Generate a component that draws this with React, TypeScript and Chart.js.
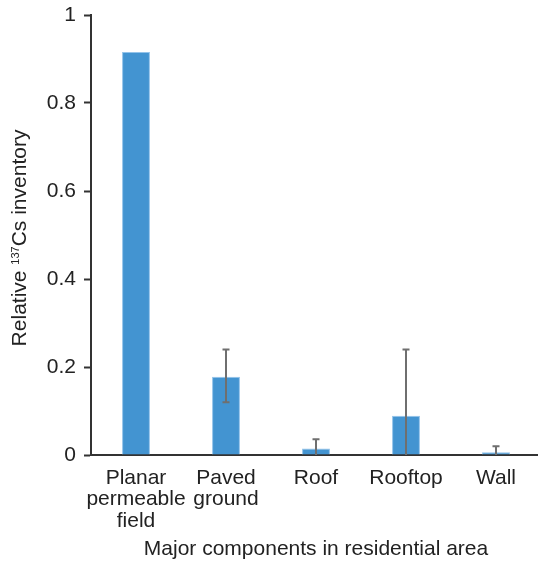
import React, { useEffect, useRef } from "react";
import { Chart, registerables } from "chart.js";

Chart.register(...registerables);

const categories: string[][] = [
  ["Planar", "permeable", "field"],
  ["Paved", "ground"],
  ["Roof"],
  ["Rooftop"],
  ["Wall"],
];
const values = [0.916, 0.178, 0.015, 0.089, 0.006];
const errLow: (number | null)[] = [null, 0.12, 0, 0, 0];
const errHigh: (number | null)[] = [null, 0.24, 0.036, 0.24, 0.02];
const yTicks = [0, 0.2, 0.4, 0.6, 0.8, 1];
const xTitle = "Major components in residential area";
const yTitleParts = ["Relative ", "137", "Cs inventory"];

const FONT = "'Liberation Sans', Arial, Helvetica, sans-serif";
const TEXT = "#222";

const errorPlugin = {
  id: "errorBars",
  afterDatasetsDraw(chart: any) {
    const { ctx, scales } = chart;
    const xs = scales.x;
    const ys = scales.y;
    ctx.save();
    ctx.strokeStyle = "#6f6f6f";
    ctx.lineWidth = 2;
    for (let i = 0; i < values.length; i++) {
      const lo = errLow[i];
      const hi = errHigh[i];
      if (lo === null || hi === null) continue;
      const x = xs.getPixelForValue(i);
      const y1 = ys.getPixelForValue(hi);
      const y2 = ys.getPixelForValue(lo);
      ctx.beginPath();
      ctx.moveTo(x, y1);
      ctx.lineTo(x, y2);
      ctx.moveTo(x - 3.5, y1);
      ctx.lineTo(x + 3.5, y1);
      if (lo > 0) {
        ctx.moveTo(x - 3.5, y2);
        ctx.lineTo(x + 3.5, y2);
      }
      ctx.stroke();
    }
    ctx.restore();
  },
};

const yTitlePlugin = {
  id: "yTitle",
  afterDraw(chart: any) {
    const { ctx, chartArea } = chart;
    const cy = (chartArea.top + chartArea.bottom) / 2 + 3;
    const big = `21px ${FONT}`;
    const small = `11px ${FONT}`;
    ctx.save();
    ctx.fillStyle = TEXT;
    ctx.textBaseline = "alphabetic";
    ctx.textAlign = "left";
    ctx.font = big;
    const w0 = ctx.measureText(yTitleParts[0]).width;
    const w2 = ctx.measureText(yTitleParts[2]).width;
    ctx.font = small;
    const w1 = ctx.measureText(yTitleParts[1]).width;
    const total = w0 + w1 + w2;
    ctx.translate(26, cy);
    ctx.rotate(-Math.PI / 2);
    let x = -total / 2;
    ctx.font = big;
    ctx.fillText(yTitleParts[0], x, 0);
    x += w0;
    ctx.font = small;
    ctx.fillText(yTitleParts[1], x, -7);
    x += w1;
    ctx.font = big;
    ctx.fillText(yTitleParts[2], x, 0);
    ctx.restore();
  },
};

export default function App() {
  const ref = useRef<HTMLCanvasElement>(null);
  useEffect(() => {
    const chart = new Chart(ref.current!, {
      type: "bar",
      data: {
        labels: categories,
        datasets: [
          {
            data: values,
            backgroundColor: "#4394d1",
            borderColor: "#93c3ea",
            borderWidth: 1,
            barPercentage: 0.31,
            categoryPercentage: 1,
          },
        ],
      },
      options: {
        responsive: false,
        animation: false,
        layout: { padding: { top: 15, right: 9, left: 0, bottom: 0 } },
        plugins: { legend: { display: false }, tooltip: { enabled: false } },
        scales: {
          x: {
            grid: { display: true, drawOnChartArea: false, drawTicks: false },
            border: { display: true, color: "#333", width: 2 },
            ticks: {
              font: { family: FONT, size: 21, lineHeight: 1.03 },
              color: TEXT,
              padding: 12,
              maxRotation: 0,
              autoSkip: false,
            },
            title: {
              display: true,
              text: xTitle,
              font: { family: FONT, size: 21, lineHeight: 1.03 },
              color: TEXT,
              padding: { top: 0, bottom: 3 },
            },
            afterFit: (s: any) => {
              s.height = 108;
            },
          },
          y: {
            min: 0,
            max: 1,
            afterBuildTicks: (axis: any) => {
              axis.ticks = yTicks.map((v) => ({ value: v }));
            },
            ticks: {
              font: { family: FONT, size: 21 },
              color: TEXT,
              padding: 8,
              callback: (v: any) => (v === 0 ? "0" : v === 1 ? "1" : Number(v).toFixed(1)),
            },
            grid: {
              display: true,
              drawOnChartArea: false,
              drawTicks: true,
              tickLength: 7,
              tickWidth: 2,
              tickColor: "#333",
            },
            border: { display: true, color: "#333", width: 2 },
            afterFit: (s: any) => {
              s.width = 91;
              s.paddingTop = 0;
              s.paddingBottom = 0;
            },
          },
        },
      },
      plugins: [errorPlugin, yTitlePlugin],
    } as any);
    return () => chart.destroy();
  }, []);
  return (
    <div
      style={{
        position: "absolute",
        left: 0,
        top: 0,
        width: 538,
        height: 563,
        overflow: "hidden",
        background: "#fff",
      }}
    >
      <canvas ref={ref} width={550} height={563} style={{ width: 550, height: 563, display: "block" }} />
    </div>
  );
}
